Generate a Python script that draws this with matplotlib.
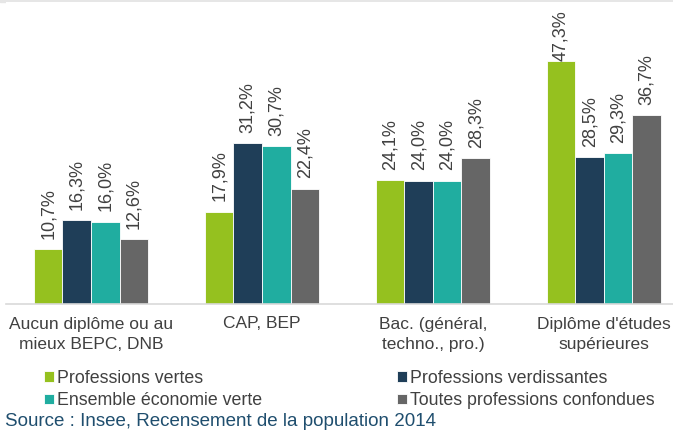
import matplotlib
matplotlib.use("Agg")
import matplotlib.pyplot as plt
import numpy as np

plt.rcParams['font.family'] = ['Liberation Sans', 'DejaVu Sans']

categories = ["Aucun diplôme ou au\nmieux BEPC, DNB", "CAP, BEP",
              "Bac. (général,\ntechno., pro.)", "Diplôme d'études\nsupérieures"]
series = ["Professions vertes", "Professions verdissantes",
          "Ensemble économie verte", "Toutes professions confondues"]
vertes = [10.7, 17.9, 24.1, 47.3]
verdissantes = [16.3, 31.2, 24.0, 28.5]
ensemble = [16.0, 30.7, 24.0, 29.3]
toutes = [12.6, 22.4, 28.3, 36.7]
colors = ["#95C11F", "#1F3E58", "#20ADA0", "#666666"]

txt = "#404040"
fig = plt.figure(figsize=(6.73, 4.30), dpi=100)
ax = fig.add_axes([6/673, 1-304/430, 1-6/673, 302/430])

x = np.arange(len(categories))
w = 0.167
off = 7.5
bars = []
labels = []
for i, (vals, c) in enumerate(zip([vertes, verdissantes, ensemble, toutes], colors)):
    pos = x + (i - 1.5) * w
    b = ax.bar(pos, vals, w, color=c, edgecolor="white", linewidth=0.6, label=series[i])
    bars.append(b)
    for xp, v in zip(pos, vals):
        t = ax.annotate(f"{v:.1f}%".replace(".", ","), (xp, v), xytext=(0, off),
                        textcoords="offset points", rotation=90, ha="center",
                        va="bottom", fontsize=13, color=txt, zorder=5)
        labels.append(t)

ax.set_xlim(-0.497, 3.404)
ax.set_ylim(0, 58.7)
ax.set_yticks([])
ax.set_xticks(x)
ax.set_xticklabels(categories, fontsize=12.5, color=txt, linespacing=1.45)
ax.tick_params(axis="x", length=0, pad=9)
for s in ["top", "right", "left"]:
    ax.spines[s].set_visible(False)
ax.spines["bottom"].set_color("#D9D9D9")
ax.spines["bottom"].set_linewidth(1.2)

# thin grey band at the top of the picture
fig.add_artist(plt.Rectangle((0, 1-2/430), 1, 2/430, transform=fig.transFigure,
                             color="#E6E6E6", zorder=0))

# push labels that would leave the plot area back down
fig.canvas.draw()
r = fig.canvas.get_renderer()
top = ax.get_window_extent().y1
for t in labels:
    bb = t.get_window_extent(r)
    if bb.y1 > top:
        t.xyann = (0, off - (bb.y1 - top + 8) * 72 / fig.dpi)

h = [bars[0], bars[2], bars[1], bars[3]]
fig.legend(h, [series[0], series[2], series[1], series[3]], ncol=2,
           loc="upper left", bbox_to_anchor=(44/673, 1-370/430), frameon=False,
           fontsize=12.75, labelcolor=txt, handlelength=0.55, handleheight=0.55,
           handletextpad=0.2, columnspacing=7.6, labelspacing=0.3, borderpad=0,
           borderaxespad=0)

fig.text(5/673, 1-421/430, "Source : Insee, Recensement de la population 2014",
         fontsize=13.5, color="#1F4E6E", va="center", ha="left")

fig.savefig("out.png", dpi=100)
